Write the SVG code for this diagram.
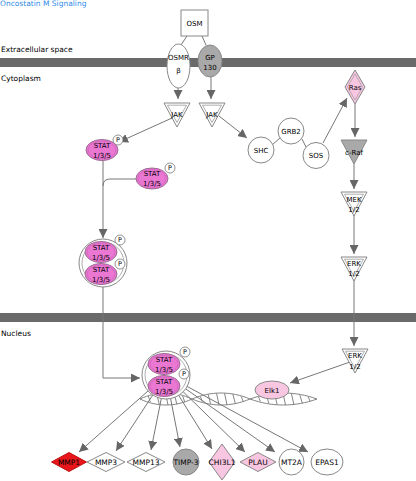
<svg xmlns="http://www.w3.org/2000/svg" width="416" height="481" viewBox="0 0 416 481">
  <style>
    text { font-family: "DejaVu Sans", Verdana, sans-serif; font-size: 7px; fill: #000; text-anchor: middle; }
    .label { text-anchor: start; font-size: 7.5px; }
    .title { text-anchor: start; font-size: 7.5px; fill: #2f8be8; }
    .gene { font-size: 7.5px; }
    .edge { fill: none; stroke: #777; stroke-width: 1; }
    .arrow { fill: none; stroke: #777; stroke-width: 1; marker-end: url(#head); }
    .node { fill: #fff; stroke: #888; stroke-width: 1; }
    .grey { fill: #a9a9a9; stroke: #888; stroke-width: 1; }
    .pink { fill: #f9c6e2; stroke: #888; stroke-width: 1; }
    .stat { fill: #ea78d3; stroke: #9a6a90; stroke-width: 1; }
    .inner { fill: none; stroke: #999; stroke-width: 0.8; }
    .membrane { fill: #6a6a6a; }
    .helix { fill: none; stroke: #777; stroke-width: 0.9; }
  </style>
  <defs>
    <marker id="head" viewBox="0 0 10 10" refX="10" refY="5" markerWidth="9" markerHeight="9" markerUnits="userSpaceOnUse" orient="auto">
      <path d="M0,0 L10,5 L0,10 z" fill="#666"/>
    </marker>
    <!-- inverted double triangle used for kinases -->
    <g id="kinase">
      <polygon points="-13,0 13,0 0,24" fill="#fff" stroke="#888" stroke-width="1"/>
      <polygon points="-9.5,2.2 9.5,2.2 0,19.5" fill="none" stroke="#999" stroke-width="0.8"/>
    </g>
    <g id="stat">
      <ellipse rx="16" ry="10.5" class="stat"/>
      <ellipse rx="14" ry="8.8" fill="none" stroke="#c85cb5" stroke-width="0.6"/>
    </g>
    <g id="phos">
      <circle r="5" fill="#fff" stroke="#777" stroke-width="0.8"/>
      <text y="2.4" style="font-size:6.5px">P</text>
    </g>
  </defs>

  <rect width="416" height="481" fill="#fff"/>

  <!-- compartments -->
  <text class="title" x="0" y="5.5">Oncostatin M Signaling</text>
  <rect class="membrane" x="0" y="58" width="416" height="9"/>
  <rect class="membrane" x="0" y="313" width="416" height="9"/>
  <text class="label" x="1" y="52">Extracellular space</text>
  <text class="label" x="1" y="81">Cytoplasm</text>
  <text class="label" x="1" y="336">Nucleus</text>

  <!-- DNA double helix -->
  <g id="dna">
    <path class="helix" d="M140,399 C157,391 175,391 192,399 C211,407 231,407 250,399 C272,391 295,391 317,399"/>
    <path class="helix" d="M140,399 C157,407 175,407 192,399 C211,391 231,391 250,399 C272,407 295,407 317,399"/>
    <path class="helix" d="M148.3,396 L150.3,402 M156.7,393.8 L159.2,404.2 M165.5,393 L168,405 M174.3,393.8 L176.8,404.2 M182.7,396 L184.7,402
      M200.3,396.4 L202.3,401.6 M208.1,394.3 L210.6,403.7 M216.5,393.2 L219,404.8 M224.5,393.2 L227,404.8 M232.9,394.3 L235.4,403.7 M241.2,396.4 L243.2,401.6
      M258.4,396.7 L260.4,401.3 M266.3,394.8 L268.8,403.2 M274.6,393.5 L277.1,404.5 M283,393 L285.5,405 M291.4,393.5 L293.9,404.5 M299.8,394.8 L302.3,403.2 M308.1,396.7 L310.1,401.3"/>
  </g>

  <!-- connectors -->
  <g id="connectors">
    <path class="edge" d="M187,36 L181,45"/>
    <path class="edge" d="M202,36 L206,45"/>
    <path class="arrow" d="M178,88 L178,99"/>
    <path class="arrow" d="M211,77 L211,99"/>
    <path class="arrow" d="M172,118 L119,142"/>
    <path class="arrow" d="M219,116 L247,138"/>
    <path class="edge" d="M272,145 L280,138"/>
    <path class="edge" d="M302,139 L306,147"/>
    <path class="arrow" d="M323,143 L347,98"/>
    <path class="arrow" d="M355,104 L355,137"/>
    <path class="arrow" d="M354,164 L354,189"/>
    <path class="arrow" d="M354,215 L354,254"/>
    <path class="arrow" d="M354,280 L354,346"/>
    <path class="arrow" d="M350,362 L290,383"/>
    <path class="edge" d="M136,179 L110,179 Q103,179 103,186"/>
    <path class="arrow" d="M103,160 L103,238"/>
    <path class="arrow" d="M103,287 L103,378 L140,378"/>
    <path class="arrow" d="M148,391 L79,452"/>
    <path class="arrow" d="M152.8,395 L116,451"/>
    <path class="arrow" d="M161.3,398.5 L151,450"/>
    <path class="arrow" d="M170.6,398.6 L180,447"/>
    <path class="arrow" d="M178.7,395.4 L212,449"/>
    <path class="arrow" d="M183.2,391.8 L245,452"/>
    <path class="arrow" d="M185.6,388.8 L275,452"/>
    <path class="arrow" d="M187.1,386.4 L308,452"/>
  </g>

  <!-- receptor complex -->
  <g id="osm">
    <rect class="node" x="181" y="10" width="27" height="26"/>
    <text x="194.5" y="25.5">OSM</text>
  </g>
  <g id="osmr">
    <ellipse class="node" cx="178.5" cy="66" rx="11.5" ry="22"/>
    <text x="178.5" y="60">OSMR</text>
    <text x="178.5" y="72.5">β</text>
  </g>
  <g id="gp130">
    <ellipse class="grey" cx="210" cy="61" rx="12" ry="16"/>
    <text x="210" y="59.5">GP</text>
    <text x="210" y="69.5">130</text>
  </g>

  <!-- kinases -->
  <g id="jak1">
    <use href="#kinase" x="177" y="103"/>
    <text x="177" y="117">JAK</text>
  </g>
  <g id="jak2">
    <use href="#kinase" x="212" y="103"/>
    <text x="212" y="117">JAK</text>
  </g>

  <!-- STAT 1/3/5 -->
  <g id="stat-a">
    <use href="#stat" x="102" y="150"/>
    <text x="102" y="147.5">STAT</text>
    <text x="102" y="157.5">1/3/5</text>
    <use href="#phos" x="118" y="140"/>
  </g>
  <g id="stat-b">
    <use href="#stat" x="152" y="178.5"/>
    <text x="152" y="176">STAT</text>
    <text x="152" y="186">1/3/5</text>
    <use href="#phos" x="170" y="168"/>
  </g>
  <g id="stat-dimer-cyto">
    <circle class="node" cx="103" cy="263" r="24"/>
    <circle class="inner" cx="103" cy="263" r="21"/>
    <use href="#stat" x="101" y="252"/>
    <text x="101" y="249.5">STAT</text>
    <text x="101" y="259.5">1/3/5</text>
    <use href="#stat" x="101" y="274"/>
    <text x="101" y="271.5">STAT</text>
    <text x="101" y="281.5">1/3/5</text>
    <use href="#phos" x="120" y="240"/>
    <use href="#phos" x="120" y="264"/>
  </g>
  <g id="stat-dimer-nuc">
    <circle class="node" cx="166" cy="375" r="24"/>
    <circle class="inner" cx="166" cy="375" r="21"/>
    <use href="#stat" x="164" y="364"/>
    <text x="164" y="361.5">STAT</text>
    <text x="164" y="371.5">1/3/5</text>
    <use href="#stat" x="164" y="386"/>
    <text x="164" y="383.5">STAT</text>
    <text x="164" y="393.5">1/3/5</text>
    <use href="#phos" x="185" y="352"/>
    <use href="#phos" x="184" y="374"/>
  </g>

  <!-- adaptor proteins -->
  <g id="shc">
    <circle class="node" cx="261" cy="150" r="13"/>
    <text x="261" y="152.5">SHC</text>
  </g>
  <g id="grb2">
    <circle class="node" cx="291" cy="131" r="13"/>
    <text x="291" y="133.5">GRB2</text>
  </g>
  <g id="sos">
    <circle class="node" cx="316" cy="155.5" r="13"/>
    <text x="316" y="158">SOS</text>
  </g>

  <!-- MAPK cascade -->
  <g id="ras">
    <polygon class="pink" points="355,70 365,87 355,104 345,87"/>
    <polygon points="355,74 362.5,87 355,100 347.5,87" fill="none" stroke="#999" stroke-width="0.7"/>
    <text x="355" y="89.5">Ras</text>
  </g>
  <g id="craf">
    <polygon class="grey" points="341,140 367,140 354,164"/>
    <text x="354" y="155">c-Raf</text>
  </g>
  <g id="mek">
    <use href="#kinase" x="354" y="192"/>
    <text x="354" y="201.5">MEK</text>
    <text x="354" y="212">1/2</text>
  </g>
  <g id="erk-cyto">
    <use href="#kinase" x="354" y="257"/>
    <text x="354" y="266">ERK</text>
    <text x="354" y="276">1/2</text>
  </g>
  <g id="erk-nuc">
    <use href="#kinase" x="355" y="349"/>
    <text x="355" y="358">ERK</text>
    <text x="355" y="368.5">1/2</text>
  </g>
  <g id="elk1">
    <ellipse class="pink" cx="272" cy="390" rx="17" ry="9"/>
    <text x="272" y="392.5">Elk1</text>
  </g>

  <!-- target genes -->
  <g id="mmp1">
    <polygon points="51.5,462 69,452.5 86.5,462 69,471.5" fill="#e8161b" stroke="#c01010" stroke-width="1"/>
    <text class="gene" x="69" y="464.7">MMP1</text>
  </g>
  <g id="mmp3">
    <polygon class="node" points="87,462 106,452.5 125,462 106,471.5"/>
    <text class="gene" x="106" y="464.7">MMP3</text>
  </g>
  <g id="mmp13">
    <polygon class="node" points="127,462 146,452.5 165,462 146,471.5"/>
    <text class="gene" x="146" y="464.7">MMP13</text>
  </g>
  <g id="timp3">
    <circle class="grey" cx="186" cy="462" r="13"/>
    <text class="gene" x="186" y="464.7">TIMP-3</text>
  </g>
  <g id="chi3l1">
    <polygon class="pink" points="209,462 222,444 235,462 222,480"/>
    <text class="gene" x="222" y="464.7">CHI3L1</text>
  </g>
  <g id="plau">
    <polygon class="pink" points="240,462 258,452.5 276,462 258,471.5"/>
    <text class="gene" x="258" y="464.7">PLAU</text>
  </g>
  <g id="mt2a">
    <ellipse class="node" cx="291.5" cy="462" rx="12.5" ry="13"/>
    <text class="gene" x="291.5" y="464.7">MT2A</text>
  </g>
  <g id="epas1">
    <ellipse class="node" cx="327" cy="462" rx="16" ry="13"/>
    <text class="gene" x="327" y="464.7">EPAS1</text>
  </g>
</svg>
